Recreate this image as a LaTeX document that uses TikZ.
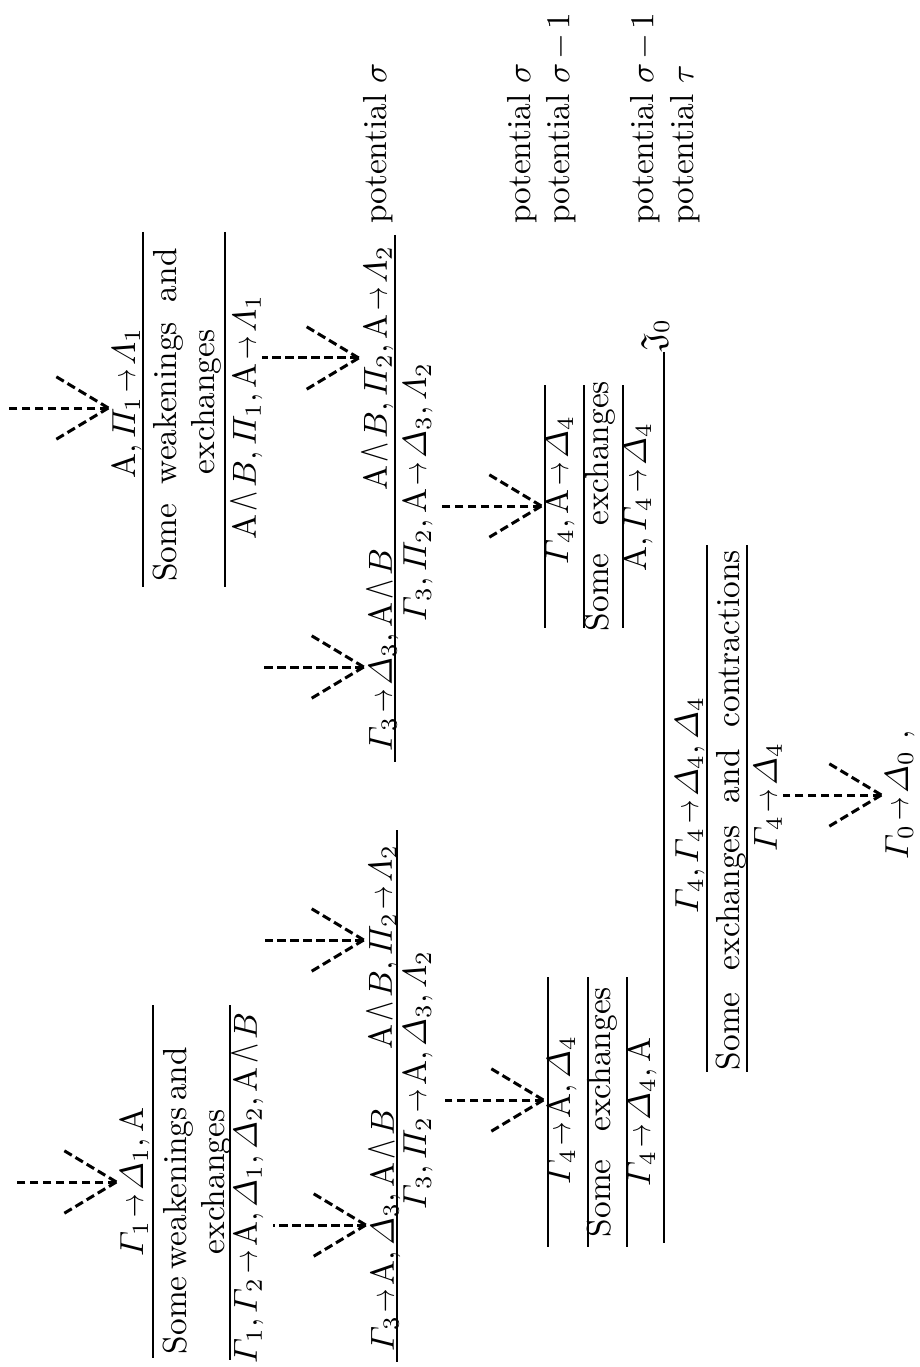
\documentclass[tikz,border=0pt]{standalone}
\usepackage{amsmath,amssymb,graphicx}
\usetikzlibrary{calc}

\newcommand{\seqto}{\mathrel{\scalebox{0.7}[1]{$\rightarrow$}}}
\newcommand{\conj}{\mathbin{\scalebox{0.9}[1.3]{$\wedge$}}}
\thickmuskip=2mu
\medmuskip=2mu
% dashed arrow with an open dashed head: #1 tail, #2 tip
\newcommand{\chev}[2]{%
  \draw[dashcon] (#2) -- (#1);
  \draw[dashcon] (#2) -- ++(-55,-33);
  \draw[dashcon] (#2) -- ++(-55,33);}

\tikzset{
  seq/.style={rotate=90, inner sep=1pt, font=\fontsize{10}{12}\selectfont},
  rule/.style={line width=0.5pt},
  dashcon/.style={line width=0.9pt, dash pattern=on 2.6pt off 1.3pt}
}

\begin{document}
\begin{tikzpicture}[x=0.3pt,y=-0.3pt]
\useasboundingbox (0,0) rectangle (920,1367);

% right part
\node[seq] (apl) at (127,403) {$\mathrm{A}, \varPi_1\seqto\varLambda_1$};
\node[seq] (swR) at (168,415) {\makebox[100pt][s]{Some weakenings and}};
\node[seq] (exR) at (206,402) {exchanges};
\node[seq] (abpa) at (247,417) {$\mathrm{A}\conj B, \varPi_1, \mathrm{A}\seqto\varLambda_1$};
\node[seq] (gdab) at (383,650) {$\varGamma_3\seqto\varDelta_3, \mathrm{A}\conj B$};
\node[seq] (abpb) at (378,368) {$\mathrm{A}\conj B, \varPi_2, \mathrm{A}\seqto\varLambda_2$};
\node[seq] (gpad) at (418,492) {$\varGamma_3, \varPi_2, \mathrm{A}\seqto\varDelta_3, \varLambda_2$};
\node[seq] (gad) at (560,490) {$\varGamma_4, \mathrm{A}\seqto\varDelta_4$};
\node[seq] (seR) at (600,506) {\makebox[75pt][s]{Some exchanges}};
\node[seq] (agd) at (638,497) {$\mathrm{A}, \varGamma_4\seqto\varDelta_4$};
\node[seq] (cutlab) at (655,335) {$\mathfrak{J}_0$};

% potentials
\node[seq,anchor=west] (potA) at (378,228) {potential $\sigma$};
\node[seq,anchor=west] (potB) at (522,228) {potential $\sigma$};
\node[seq,anchor=west] (potC) at (561,228) {potential $\sigma-1$};
\node[seq,anchor=west] (potD) at (645,228) {potential $\sigma-1$};
\node[seq,anchor=west] (potE) at (685,228) {potential $\tau$};

% left part
\node[seq] (gda) at (135,1182) {$\varGamma_1\seqto\varDelta_1, \mathrm{A}$};
\node[seq,anchor=west] (swL) at (178,1358) {Some\hspace{2pt}weakenings\hspace{2pt}and};
\node[seq] (exL) at (216,1182) {exchanges};
\node[seq] (ggad) at (248,1188) {$\varGamma_1, \varGamma_2\seqto\mathrm{A}, \varDelta_1, \varDelta_2, \mathrm{A}\conj B$};
\node[seq] (gadab) at (385,1230) {$\varGamma_3\seqto\mathrm{A}, \varDelta_3, \mathrm{A}\conj B$};
\node[seq] (abpl) at (383,947) {$\mathrm{A}\conj B, \varPi_2\seqto\varLambda_2$};
\node[seq] (gpadl) at (418,1080) {$\varGamma_3, \varPi_2\seqto\mathrm{A}, \varDelta_3, \varLambda_2$};
\node[seq] (gadL) at (562,1110) {$\varGamma_4\seqto\mathrm{A}, \varDelta_4$};
\node[seq] (seL) at (602,1112) {\makebox[75pt][s]{Some exchanges}};
\node[seq] (gdaL) at (642,1112) {$\varGamma_4\seqto\varDelta_4, \mathrm{A}$};

% end piece
\node[seq] (ggdd) at (690,805) {$\varGamma_4, \varGamma_4\seqto\varDelta_4, \varDelta_4$};
\node[seq] (sec) at (731,810) {\makebox[156pt][s]{Some exchanges and contractions}};
\node[seq] (gdf) at (768,797) {$\varGamma_4\seqto\varDelta_4$};
\node[seq] (gdz) at (900,795) {$\varGamma_0\seqto\varDelta_0\ ,$};

% inference lines
\foreach \x/\a/\b in {143/232/587, 225/232/587, 395/235/762,
                      545/385/628, 584/385/628, 623/385/628,
                      153/1005/1358, 230/1005/1360, 397/830/1362,
                      548/977/1247, 588/977/1247, 627/977/1247,
                      664/352/1243, 707/545/1072, 747/545/1072}
  \draw[rule] (\x,\a) -- (\x,\b);

% arrow tips and tails
\coordinate (tipA) at ($(apl.north)+(0,5)$);
\coordinate (tipB) at ($(abpb.north)+(0,-10)$);
\coordinate (tipC) at ($(gdab.north)+(0,17)$);
\coordinate (tipD) at ($(gad.north)+(0,16)$);
\coordinate (tipE) at (gda.north);
\coordinate (tipF) at ($(gadab.north)+(0,-5)$);
\coordinate (tipG) at ($(abpl.north)+(0,-7)$);
\coordinate (tipH) at ($(gadL.north)+(0,-10)$);
\coordinate (tipI) at (gdz.north);
\coordinate (tailA) at (tipA -| 7,0);
\coordinate (tailB) at (tipB -| 262,0);
\coordinate (tailC) at (tipC -| 263,0);
\coordinate (tailD) at (tipD -| 440,0);
\coordinate (tailE) at (tipE -| 15,0);
\coordinate (tailF) at (tipF -| 273,0);
\coordinate (tailG) at (tipG -| 265,0);
\coordinate (tailH) at (tipH -| 445,0);
\coordinate (tailI) at (tipI -| 783,0);

\chev{tailA}{tipA}
\chev{tailB}{tipB}
\chev{tailC}{tipC}
\chev{tailD}{tipD}
\chev{tailE}{tipE}
\chev{tailF}{tipF}
\chev{tailG}{tipG}
\chev{tailH}{tipH}
\chev{tailI}{tipI}

\end{tikzpicture}
\end{document}
